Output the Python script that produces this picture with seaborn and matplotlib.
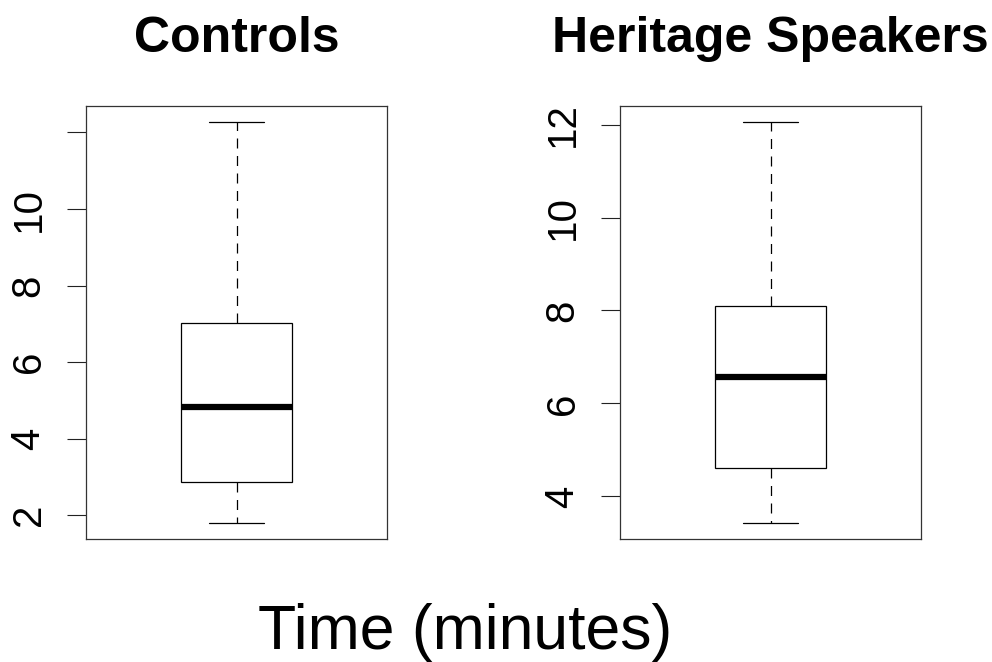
import numpy as np
import pandas as pd
import matplotlib
matplotlib.use('Agg')
import matplotlib.pyplot as plt
import seaborn as sns

# values: min, Q1, median, Q3, max
controls_time = [1.80, 2.86, 4.84, 7.02, 12.28]
heritage_time = [3.43, 4.62, 6.58, 8.09, 12.06]
groups = ['Controls', 'Heritage Speakers']
yticks_controls = [2, 4, 6, 8, 10, 12]
ylabels_controls = ['2', '4', '6', '8', '10', '']
yticks_heritage = [4, 6, 8, 10, 12]
ylabels_heritage = ['4', '6', '8', '10', '12']

sns.set_style('white')
plt.rcParams['font.family'] = ['Liberation Sans', 'DejaVu Sans']
plt.rcParams['text.color'] = 'black'
plt.rcParams['ytick.labelcolor'] = 'black'

fig = plt.figure(figsize=(9.92, 6.62), dpi=100)
ax1 = fig.add_axes([86/992, 1-539/662, 301/992, 433.3/662])
ax2 = fig.add_axes([620/992, 1-539/662, 301/992, 433.3/662])

for ax, vals, title, ticks, labels in [
        (ax1, controls_time, groups[0], yticks_controls, ylabels_controls),
        (ax2, heritage_time, groups[1], yticks_heritage, ylabels_heritage)]:
    sns.boxplot(y=vals, ax=ax, width=0.4, color='white', linecolor='black',
                linewidth=0.9, showfliers=False,
                whiskerprops=dict(linestyle=(0, (8, 6))),
                medianprops=dict(linewidth=4.5, solid_capstyle='butt'))
    # R style: 4% padding around the data range
    lo, hi = min(vals), max(vals)
    pad = (hi - lo) * 0.04
    ax.set_ylim(lo - pad, hi + pad)
    ax.set_xlim(-0.54, 0.54)
    ax.set_xticks([])
    ax.set_yticks(ticks)
    ax.set_yticklabels(labels, rotation=90, va='center', fontsize=29,
                       color='black')
    ax.tick_params(axis='y', direction='out', length=13.7, width=0.8,
                   color='#222222', pad=14, left=True)
    ax.set_ylabel('')
    for s in ax.spines.values():
        s.set_visible(True)
        s.set_color('#333333')
        s.set_linewidth(0.9)
    ax.set_title(title, fontsize=36, fontweight='bold', pad=39,
                 color='black')

fig.text(465/992, 1-649/662, 'Time (minutes)', fontsize=45,
         ha='center', va='baseline', color='black')

fig.savefig('out.png', dpi=100, facecolor='white')
